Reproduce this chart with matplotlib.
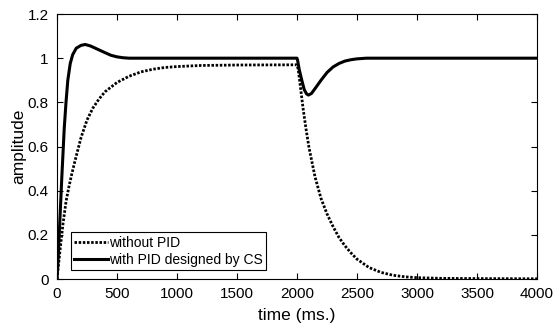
import matplotlib
matplotlib.use('Agg')
import matplotlib.pyplot as plt

plt.rcParams['font.family'] = ['Liberation Sans', 'DejaVu Sans']

# response without PID (dotted)
t_open = [0, 25, 50, 75, 100, 125, 150, 200, 250, 300, 350, 400, 500, 600, 700, 800,
          900, 1000, 1200, 1500, 2000, 2010, 2025, 2050, 2075, 2100, 2150, 2200, 2250,
          2300, 2350, 2400, 2450, 2500, 2600, 2700, 2800, 2900, 3000, 3200, 3500, 4000]
y_open = [0, 0.13, 0.25, 0.35, 0.42, 0.48, 0.535, 0.64, 0.72, 0.775, 0.815, 0.848, 0.89,
          0.918, 0.938, 0.95, 0.958, 0.962, 0.967, 0.969, 0.97, 0.95, 0.886, 0.775,
          0.68, 0.595, 0.463, 0.365, 0.295, 0.238, 0.188, 0.15, 0.118, 0.09, 0.052,
          0.03, 0.017, 0.01, 0.006, 0.003, 0.002, 0.001]

# response with PID designed by CS (solid)
t_pid = [0, 10, 25, 40, 60, 75, 90, 110, 130, 160, 200, 235, 280, 320, 360, 400, 450,
         500, 550, 600, 2000, 2005, 2020, 2040, 2060, 2080, 2095, 2120, 2150, 2200,
         2250, 2300, 2350, 2400, 2450, 2500, 2580, 4000]
y_pid = [0, 0.10, 0.28, 0.46, 0.68, 0.80, 0.90, 0.975, 1.015, 1.045, 1.058, 1.062,
         1.055, 1.045, 1.035, 1.025, 1.013, 1.006, 1.002, 1.0, 1.0, 0.99, 0.945, 0.90,
         0.858, 0.838, 0.833, 0.84, 0.862, 0.90, 0.935, 0.96, 0.976, 0.987, 0.993,
         0.997, 1.0, 1.0]

x_ticks = [0, 500, 1000, 1500, 2000, 2500, 3000, 3500, 4000]
y_ticks = [0, 0.2, 0.4, 0.6, 0.8, 1.0, 1.2]
y_ticklabels = ['0', '0.2', '0.4', '0.6', '0.8', '1', '1.2']

fig = plt.figure(figsize=(5.54, 3.32), dpi=100)
ax = fig.add_axes([0.1029, 0.1596, 0.8664, 0.7982])

ax.plot(t_open, y_open, color='black', linestyle=(0, (0.9, 0.6)), linewidth=2.0,
        label='without PID')
ax.plot(t_pid, y_pid, color='black', linewidth=2.2, label='with PID designed by CS')

ax.set_xlim(0, 4000)
ax.set_ylim(0, 1.2)
ax.set_xticks(x_ticks)
ax.set_yticks(y_ticks)
ax.set_yticklabels(y_ticklabels)
ax.tick_params(direction='in', top=True, right=True, length=4, labelsize=11,
               width=0.8, pad=6)
for s in ax.spines.values():
    s.set_linewidth(0.8)

ax.set_xlabel('time (ms.)', fontsize=12.5, labelpad=5)
ax.set_ylabel('amplitude', fontsize=12.5, labelpad=1)

leg = ax.legend(loc='lower left', bbox_to_anchor=(0.029, 0.034), fontsize=10,
                handlelength=2.4, handletextpad=0.1, borderpad=0.25,
                labelspacing=0.2, fancybox=False, framealpha=1,
                edgecolor='black', borderaxespad=0)
leg.get_frame().set_linewidth(0.8)

fig.savefig('out.png', dpi=100)
